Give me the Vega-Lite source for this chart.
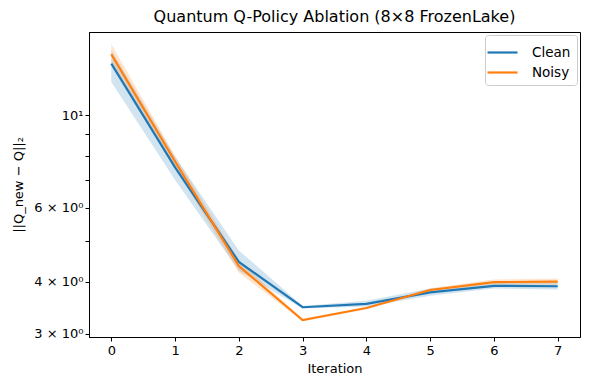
{
  "$schema": "https://vega.github.io/schema/vega-lite/v6.json",
  "width": 491,
  "height": 305,
  "autosize": {"type": "none"},
  "padding": {"left": 89, "top": 32, "right": 10, "bottom": 53},
  "background": "white",
  "config": {
    "font": "DejaVu Sans",
    "view": {"stroke": "#000", "strokeWidth": 1},
    "axis": {"grid": false, "domainColor": "#000", "tickColor": "#000", "labelColor": "#000", "titleColor": "#000", "labelFont": "DejaVu Sans", "titleFont": "DejaVu Sans", "labelFontSize": 13, "titleFontSize": 13, "titleFontWeight": "normal", "tickSize": 4}
  },
  "title": {"text": "Quantum Q-Policy Ablation (8×8 FrozenLake)", "font": "DejaVu Sans", "fontSize": 16, "fontWeight": "normal", "color": "#000", "offset": 7},
  "data": {"values": [
    {"iteration": 0, "method": "Clean", "mean": 13.28, "lo": 12.0, "hi": 14.3},
    {"iteration": 1, "method": "Clean", "mean": 7.5, "lo": 7.0, "hi": 7.95},
    {"iteration": 2, "method": "Clean", "mean": 4.46, "lo": 4.25, "hi": 4.75},
    {"iteration": 3, "method": "Clean", "mean": 3.475, "lo": 3.45, "hi": 3.5},
    {"iteration": 4, "method": "Clean", "mean": 3.54, "lo": 3.49, "hi": 3.6},
    {"iteration": 5, "method": "Clean", "mean": 3.77, "lo": 3.7, "hi": 3.85},
    {"iteration": 6, "method": "Clean", "mean": 3.91, "lo": 3.85, "hi": 3.97},
    {"iteration": 7, "method": "Clean", "mean": 3.9, "lo": 3.83, "hi": 3.97},
    {"iteration": 0, "method": "Noisy", "mean": 13.98, "lo": 13.4, "hi": 14.8},
    {"iteration": 1, "method": "Noisy", "mean": 7.75, "lo": 7.5, "hi": 8.0},
    {"iteration": 2, "method": "Noisy", "mean": 4.36, "lo": 4.2, "hi": 4.5},
    {"iteration": 3, "method": "Noisy", "mean": 3.236, "lo": 3.22, "hi": 3.25},
    {"iteration": 4, "method": "Noisy", "mean": 3.46, "lo": 3.44, "hi": 3.48},
    {"iteration": 5, "method": "Noisy", "mean": 3.82, "lo": 3.79, "hi": 3.86},
    {"iteration": 6, "method": "Noisy", "mean": 3.99, "lo": 3.94, "hi": 4.05},
    {"iteration": 7, "method": "Noisy", "mean": 4.0, "lo": 3.94, "hi": 4.07}
  ]},
  "encoding": {
    "x": {"field": "iteration", "type": "quantitative", "scale": {"domain": [-0.35, 7.35], "nice": false, "zero": false},
          "axis": {"title": "Iteration", "values": [0,1,2,3,4,5,6,7], "format": "d", "labelPadding": 3, "titlePadding": 5}},
    "color": {"field": "method", "type": "nominal", "scale": {"domain": ["Clean", "Noisy"], "range": ["#1f77b4", "#ff7f0e"]},
              "legend": {"title": null, "orient": "top-right", "offset": 3, "symbolType": "M-1.5,0H1.5", "symbolStrokeWidth": 2.2, "symbolSize": 400, "symbolOpacity": 1, "labelOffset": 18, "labelFontSize": 13.5, "labelFont": "DejaVu Sans", "labelColor": "#000", "strokeColor": "#ccc", "fillColor": "white", "padding": 6, "cornerRadius": 3, "rowPadding": 2}}
  },
  "layer": [
    {
      "mark": {"type": "area", "opacity": 0.2},
      "encoding": {
        "y": {"field": "lo", "type": "quantitative"},
        "y2": {"field": "hi"}
      }
    },
    {
      "mark": {"type": "line", "strokeWidth": 2.2},
      "encoding": {
        "y": {"field": "mean", "type": "quantitative",
              "scale": {"type": "log", "domain": [2.95, 15.8], "nice": false, "zero": false},
              "axis": {"title": "||Q_new − Q||₂", "values": [3,4,5,6,7,8,9,10],
                       "labelExpr": "datum.value == 10 ? '10¹' : datum.value == 6 ? '6 × 10⁰' : datum.value == 4 ? '4 × 10⁰' : datum.value == 3 ? '3 × 10⁰' : ''",
                       "titlePadding": 8}}
      }
    }
  ]
}
